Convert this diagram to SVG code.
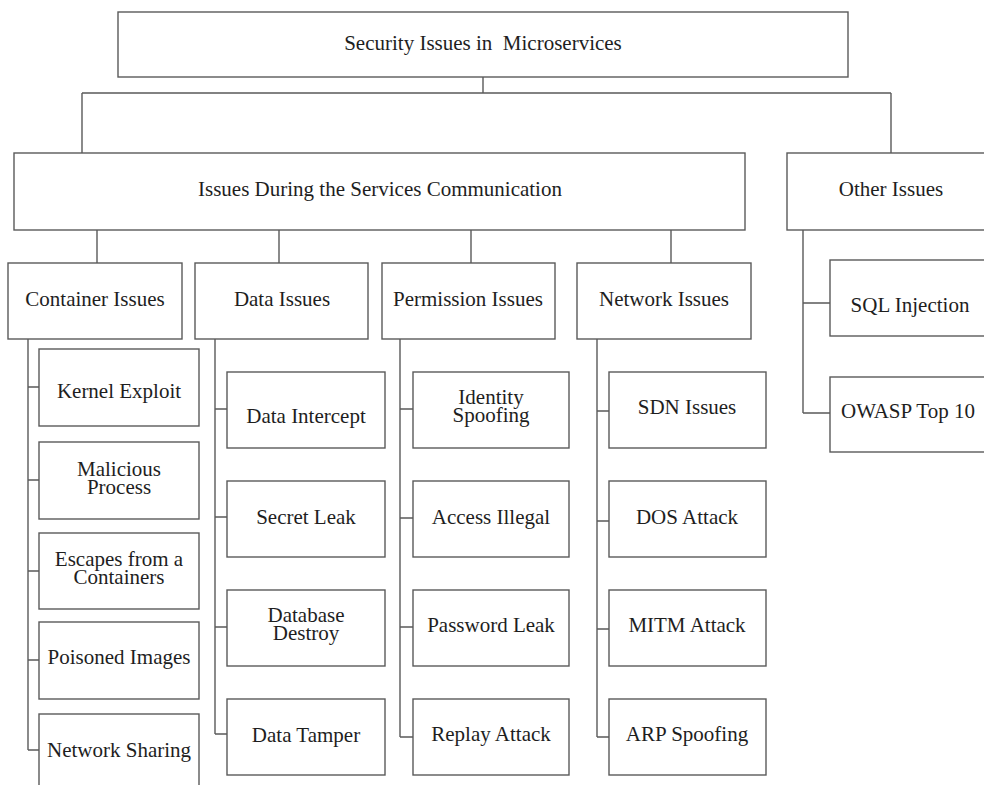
<svg xmlns="http://www.w3.org/2000/svg" width="984" height="785" viewBox="0 0 984 785">
<style>
.b{fill:#fff;stroke:#5a5a5a;stroke-width:1.4}
.l{fill:none;stroke:#5a5a5a;stroke-width:1.4}
.t{font-family:'Liberation Serif','Times New Roman','DejaVu Serif',serif;font-size:21px;fill:#1e1e1e;text-anchor:middle}
</style>
<rect width="984" height="785" fill="#fff"/>
<g id="connectors">
<path class="l" d="M483,77V93M82,93H891M82,93V153M891,93V153"/>
<path class="l" d="M97,230V263M279,230V263M471,230V263M671,230V263"/>
<path class="l" d="M28,339V750M28,387H39M28,480H39M28,571H39M28,660H39M28,750H39"/>
<path class="l" d="M215,339V734M215,409H227M215,517H227M215,627H227M215,734H227"/>
<path class="l" d="M400,339V737M400,409H413M400,518H413M400,627H413M400,737H413"/>
<path class="l" d="M597,339V737M597,411H609M597,521H609M597,629H609M597,737H609"/>
<path class="l" d="M803,230V413M803,303H830M803,413H830"/>
</g>
<g id="root"><rect class="b" x="118" y="12" width="730" height="65"/><text class="t" x="483" y="50" xml:space="preserve">Security Issues in  Microservices</text></g>
<g id="comm"><rect class="b" x="14" y="153" width="731" height="77"/><text class="t" x="380" y="196">Issues During the Services Communication</text></g>
<g id="other"><rect class="b" x="787" y="153" width="208" height="77"/><text class="t" x="891" y="196">Other Issues</text></g>
<g id="container"><rect class="b" x="8" y="263" width="174" height="76"/><text class="t" x="95" y="306">Container Issues</text></g>
<g id="data"><rect class="b" x="195" y="263" width="173" height="76"/><text class="t" x="282" y="306">Data Issues</text></g>
<g id="permission"><rect class="b" x="382" y="263" width="173" height="76"/><text class="t" x="468" y="306">Permission Issues</text></g>
<g id="network"><rect class="b" x="577" y="263" width="174" height="76"/><text class="t" x="664" y="306">Network Issues</text></g>
<g id="kernel"><rect class="b" x="39" y="349" width="160" height="77"/><text class="t" x="119" y="398">Kernel Exploit</text></g>
<g id="malicious"><rect class="b" x="39" y="442" width="160" height="77"/><text class="t" x="119" y="476"><tspan x="119">Malicious</tspan><tspan x="119" dy="18">Process</tspan></text></g>
<g id="escapes"><rect class="b" x="39" y="533" width="160" height="76"/><text class="t" x="119" y="566"><tspan x="119">Escapes from a</tspan><tspan x="119" dy="18">Containers</tspan></text></g>
<g id="poisoned"><rect class="b" x="39" y="622" width="160" height="77"/><text class="t" x="119" y="664">Poisoned Images</text></g>
<g id="netshare"><rect class="b" x="39" y="714" width="160" height="77"/><text class="t" x="119" y="757">Network Sharing</text></g>
<g id="intercept"><rect class="b" x="227" y="372" width="158" height="76"/><text class="t" x="306" y="423">Data Intercept</text></g>
<g id="secret"><rect class="b" x="227" y="481" width="158" height="76"/><text class="t" x="306" y="524">Secret Leak</text></g>
<g id="dbdestroy"><rect class="b" x="227" y="590" width="158" height="76"/><text class="t" x="306" y="622"><tspan x="306">Database</tspan><tspan x="306" dy="18">Destroy</tspan></text></g>
<g id="tamper"><rect class="b" x="227" y="699" width="158" height="76"/><text class="t" x="306" y="742">Data Tamper</text></g>
<g id="identity"><rect class="b" x="413" y="372" width="156" height="76"/><text class="t" x="491" y="404"><tspan x="491">Identity</tspan><tspan x="491" dy="18">Spoofing</tspan></text></g>
<g id="access"><rect class="b" x="413" y="481" width="156" height="76"/><text class="t" x="491" y="524">Access Illegal</text></g>
<g id="password"><rect class="b" x="413" y="590" width="156" height="76"/><text class="t" x="491" y="632">Password Leak</text></g>
<g id="replay"><rect class="b" x="413" y="699" width="156" height="76"/><text class="t" x="491" y="741">Replay Attack</text></g>
<g id="sdn"><rect class="b" x="609" y="372" width="157" height="76"/><text class="t" x="687" y="414">SDN Issues</text></g>
<g id="dos"><rect class="b" x="609" y="481" width="157" height="76"/><text class="t" x="687" y="524">DOS Attack</text></g>
<g id="mitm"><rect class="b" x="609" y="590" width="157" height="76"/><text class="t" x="687" y="632">MITM Attack</text></g>
<g id="arp"><rect class="b" x="609" y="699" width="157" height="76"/><text class="t" x="687" y="741">ARP Spoofing</text></g>
<g id="sql"><rect class="b" x="830" y="260" width="160" height="76"/><text class="t" x="910" y="312">SQL Injection</text></g>
<g id="owasp"><rect class="b" x="830" y="377" width="160" height="75"/><text class="t" x="908" y="418">OWASP Top 10</text></g>
</svg>
